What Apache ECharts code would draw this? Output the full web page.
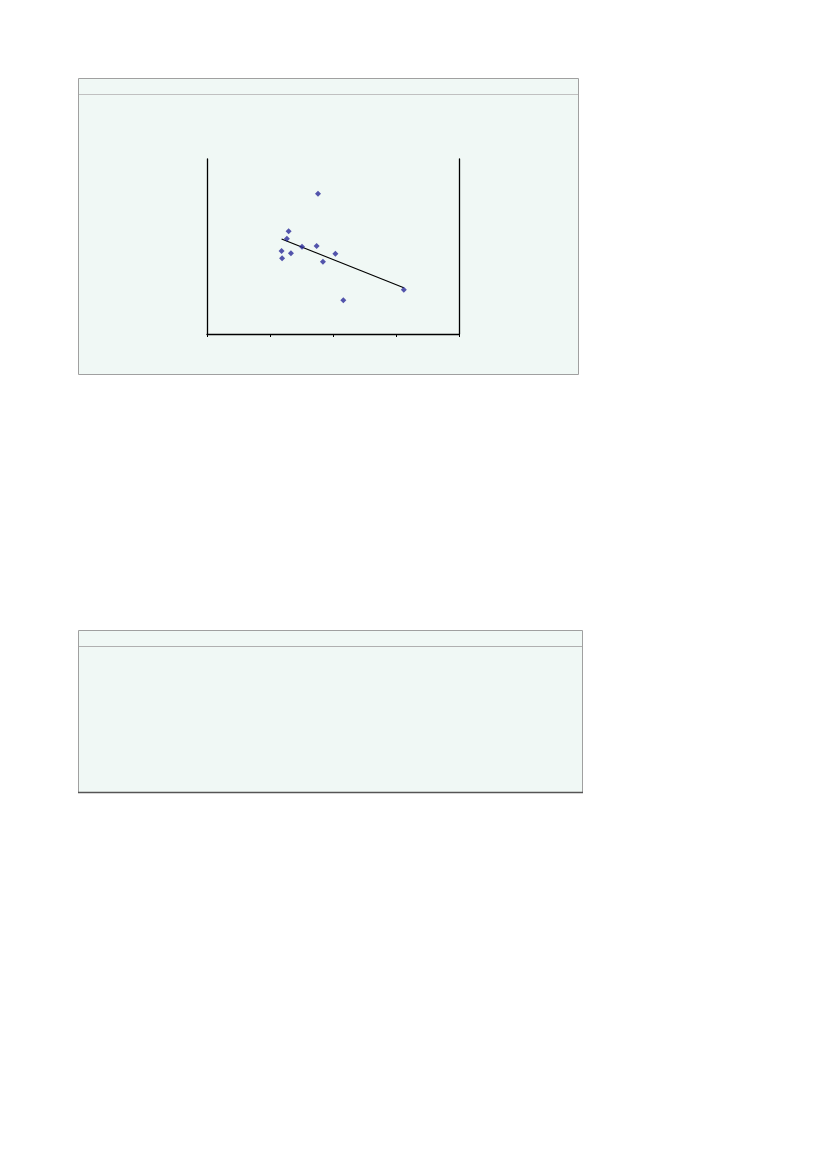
<!DOCTYPE html>
<html><head><meta charset="utf-8">
<script src="https://cdn.jsdelivr.net/npm/echarts@6/dist/echarts.min.js"></script>
<style>html,body{margin:0;padding:0;background:#fff;}#c{width:827px;height:1169px;}</style>
</head><body><div id="c"></div>
<script>
const xValues = [44.05, 32.4, 31.7, 37.7, 43.5, 29.6, 33.3, 50.95, 29.8, 46.0, 78.1, 54.1];
const yValues = [80.2, 58.7, 54.5, 49.9, 50.3, 47.4, 46.1, 45.9, 43.3, 41.3, 25.3, 19.3];
const xTicks = [0, 25, 50, 75, 100];

const pts = xValues.map((x, i) => [x, yValues[i]]);
const n = xValues.length;
const mx = xValues.reduce((a, b) => a + b, 0) / n;
const my = yValues.reduce((a, b) => a + b, 0) / n;
let sxy = 0, sxx = 0;
for (let i = 0; i < n; i++) { sxy += (xValues[i] - mx) * (yValues[i] - my); sxx += (xValues[i] - mx) ** 2; }
const slope = sxy / sxx, icpt = my - slope * mx;
const xmin = Math.min(...xValues), xmax = Math.max(...xValues);
const trend = [[xmin, icpt + slope * xmin], [xmax, icpt + slope * xmax]];

const chart = echarts.init(document.getElementById('c'), null, {renderer: 'canvas'});
const bg = '#f0f8f5';
chart.setOption({
  animation: false,
  graphic: [
    {type: 'rect', z: -10, shape: {x: 78.5, y: 78.5, width: 500, height: 296}, style: {fill: bg, stroke: '#a0a0a0', lineWidth: 1}},
    {type: 'line', z: -9, shape: {x1: 79, y1: 94.5, x2: 578, y2: 94.5}, style: {stroke: '#c0c0c0', lineWidth: 1}},
    {type: 'rect', z: -10, shape: {x: 78.5, y: 630.5, width: 504, height: 162}, style: {fill: bg, stroke: '#a0a0a0', lineWidth: 1}},
    {type: 'line', z: -9, shape: {x1: 79, y1: 646.5, x2: 582, y2: 646.5}, style: {stroke: '#b0b0b0', lineWidth: 1}},
    {type: 'line', z: -9, shape: {x1: 78, y1: 792.5, x2: 583, y2: 792.5}, style: {stroke: '#555555', lineWidth: 1.5}}
  ],
  grid: {left: 207, top: 159, width: 252, height: 175, containLabel: false},
  xAxis: {
    type: 'value', min: xTicks[0], max: xTicks[xTicks.length - 1], interval: 25,
    axisLine: {show: true, onZero: false, lineStyle: {color: '#000', width: 1.3}},
    axisTick: {show: true, inside: false, length: 3, lineStyle: {color: '#000', width: 1}},
    axisLabel: {show: false}, splitLine: {show: false}
  },
  yAxis: [
    {type: 'value', min: 0, max: 100, position: 'left',
      axisLine: {show: true, onZero: false, lineStyle: {color: '#000', width: 1.3}},
      axisTick: {show: false}, axisLabel: {show: false}, splitLine: {show: false}},
    {type: 'value', min: 0, max: 100, position: 'right',
      axisLine: {show: true, onZero: false, lineStyle: {color: '#000', width: 1.3}},
      axisTick: {show: false}, axisLabel: {show: false}, splitLine: {show: false}}
  ],
  series: [
    {type: 'line', data: trend, symbol: 'none', lineStyle: {color: '#000', width: 1.2}, z: 2},
    {type: 'scatter', data: pts, symbol: 'diamond', symbolSize: 6, itemStyle: {color: '#2b2b99'}, z: 3}
  ]
});
</script></body></html>
